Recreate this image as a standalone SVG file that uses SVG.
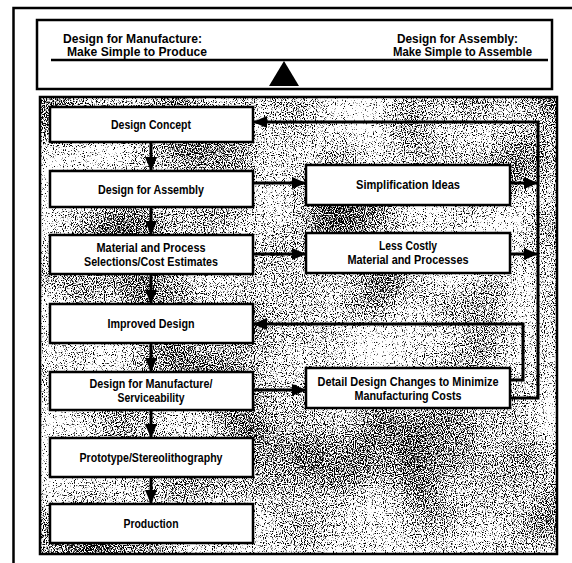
<svg xmlns="http://www.w3.org/2000/svg" width="572" height="563" viewBox="0 0 572 563">
  <style>
    .frame { fill: none; stroke: #000; stroke-width: 2.5; }
    .box { fill: #fff; stroke: #000; stroke-width: 2.5; }
    .lbl { font-family: "Liberation Sans", Arial, sans-serif; font-weight: bold; font-size: 13.5px; fill: #000; }
    .hdr { font-family: "Liberation Sans", Arial, sans-serif; font-weight: bold; font-size: 12.5px; fill: #000; }
    .arrow { fill: none; stroke: #000; stroke-width: 3; marker-end: url(#head); }
  </style>
  <defs>
    <marker id="head" markerUnits="userSpaceOnUse" markerWidth="14" markerHeight="12" refX="14" refY="6" orient="auto">
      <path d="M0,0 L14,6 L0,12 z" fill="#000"/>
    </marker>
    <!-- halftone-like grain for the shaded process panel -->
    <filter id="grain" x="0" y="0" width="100%" height="100%" color-interpolation-filters="sRGB">
      <feTurbulence type="fractalNoise" baseFrequency="0.9" numOctaves="1" seed="3" result="fineRaw"/>
      <feColorMatrix in="fineRaw" type="matrix" values="1 0 0 0 0  0 1 0 0 0  0 0 1 0 0  0 0 0 0 1" result="fine"/>
      <feTurbulence type="fractalNoise" baseFrequency="0.01" numOctaves="2" seed="7" result="coarseRaw"/>
      <feColorMatrix in="coarseRaw" type="matrix" values="1 0 0 0 0  0 1 0 0 0  0 0 1 0 0  0 0 0 0 1" result="coarse"/>
      <feComposite in="fine" in2="coarse" operator="arithmetic" k2="1" k3="0.45" k4="-0.225" result="mix"/>
      <feColorMatrix in="mix" type="matrix" values="0 0 0 0 0  0 0 0 0 0  0 0 0 0 0  -8 0 0 0 3.9"/>
    </filter>
  </defs>

  <!-- outer frame -->
  <path class="frame" d="M13.5,563 V8 H572"/>

  <!-- header: balance of manufacture vs assembly -->
  <g id="header">
    <rect class="frame" x="37" y="20" width="515" height="69" stroke-width="2"/>
    <text class="hdr" x="63" y="43" textLength="139" lengthAdjust="spacingAndGlyphs">Design for Manufacture:</text>
    <text class="hdr" x="67" y="56" textLength="140" lengthAdjust="spacingAndGlyphs">Make Simple to Produce</text>
    <text class="hdr" x="397" y="43" textLength="121" lengthAdjust="spacingAndGlyphs">Design for Assembly:</text>
    <text class="hdr" x="393" y="56" textLength="139" lengthAdjust="spacingAndGlyphs">Make Simple to Assemble</text>
    <line x1="51" y1="60" x2="548" y2="60" stroke="#000" stroke-width="2.5"/>
    <polygon points="284,61 269,86 299,86" fill="#000"/>
  </g>

  <!-- shaded process panel -->
  <g id="panel">
    <rect x="40" y="97" width="517" height="457" fill="#fff"/>
    <rect x="40" y="97" width="517" height="457" fill="#000" filter="url(#grain)"/>
    <rect class="frame" x="40" y="97" width="517" height="457"/>
  </g>

  <!-- connectors -->
  <g id="connectors">
    <line class="arrow" x1="151" y1="142" x2="151" y2="171"/>
    <line class="arrow" x1="151" y1="207" x2="151" y2="235"/>
    <line class="arrow" x1="151" y1="274" x2="151" y2="304"/>
    <line class="arrow" x1="151" y1="343" x2="151" y2="372"/>
    <line class="arrow" x1="151" y1="410" x2="151" y2="438"/>
    <line class="arrow" x1="151" y1="477" x2="151" y2="504"/>

    <line class="arrow" x1="253" y1="183" x2="306" y2="183"/>
    <line class="arrow" x1="253" y1="254" x2="306" y2="254"/>
    <line class="arrow" x1="253" y1="390" x2="306" y2="390"/>

    <line class="arrow" x1="510" y1="183" x2="538" y2="183"/>
    <line class="arrow" x1="510" y1="254" x2="538" y2="254"/>

    <!-- outer feedback loop back to the concept -->
    <path class="arrow" d="M510,398 H538 V122 H253"/>
    <!-- inner feedback loop back to the improved design -->
    <path class="arrow" d="M510,380 H523 V324 H253"/>
  </g>

  <g id="design-concept">
    <rect class="box" x="50" y="107" width="203" height="35"/>
    <text class="lbl" x="151" y="129" text-anchor="middle" textLength="80" lengthAdjust="spacingAndGlyphs">Design Concept</text>
  </g>
  <g id="design-for-assembly">
    <rect class="box" x="50" y="171" width="203" height="36"/>
    <text class="lbl" x="151" y="194" text-anchor="middle" textLength="106" lengthAdjust="spacingAndGlyphs">Design for Assembly</text>
  </g>
  <g id="material-process">
    <rect class="box" x="50" y="235" width="203" height="39"/>
    <text class="lbl" x="151" y="252" text-anchor="middle" textLength="109" lengthAdjust="spacingAndGlyphs">Material and Process</text>
    <text class="lbl" x="151" y="266" text-anchor="middle" textLength="134" lengthAdjust="spacingAndGlyphs">Selections/Cost Estimates</text>
  </g>
  <g id="improved-design">
    <rect class="box" x="50" y="304" width="203" height="39"/>
    <text class="lbl" x="151" y="328" text-anchor="middle" textLength="87" lengthAdjust="spacingAndGlyphs">Improved Design</text>
  </g>
  <g id="design-for-manufacture">
    <rect class="box" x="50" y="372" width="203" height="38"/>
    <text class="lbl" x="151" y="388" text-anchor="middle" textLength="123" lengthAdjust="spacingAndGlyphs">Design for Manufacture/</text>
    <text class="lbl" x="151" y="402" text-anchor="middle" textLength="67" lengthAdjust="spacingAndGlyphs">Serviceability</text>
  </g>
  <g id="prototype">
    <rect class="box" x="50" y="438" width="203" height="39"/>
    <text class="lbl" x="151" y="462" text-anchor="middle" textLength="143" lengthAdjust="spacingAndGlyphs">Prototype/Stereolithography</text>
  </g>
  <g id="production">
    <rect class="box" x="50" y="504" width="203" height="39"/>
    <text class="lbl" x="151" y="528" text-anchor="middle" textLength="55" lengthAdjust="spacingAndGlyphs">Production</text>
  </g>

  <g id="simplification-ideas">
    <rect class="box" x="306" y="165" width="204" height="40"/>
    <text class="lbl" x="408" y="189" text-anchor="middle" textLength="104" lengthAdjust="spacingAndGlyphs">Simplification Ideas</text>
  </g>
  <g id="less-costly">
    <rect class="box" x="306" y="233" width="204" height="40"/>
    <text class="lbl" x="408" y="250" text-anchor="middle" textLength="58" lengthAdjust="spacingAndGlyphs">Less Costly</text>
    <text class="lbl" x="408" y="264" text-anchor="middle" textLength="121" lengthAdjust="spacingAndGlyphs">Material and Processes</text>
  </g>
  <g id="detail-design-changes">
    <rect class="box" x="306" y="368" width="204" height="40"/>
    <text class="lbl" x="408" y="386" text-anchor="middle" textLength="181" lengthAdjust="spacingAndGlyphs">Detail Design Changes to Minimize</text>
    <text class="lbl" x="408" y="400" text-anchor="middle" textLength="107" lengthAdjust="spacingAndGlyphs">Manufacturing Costs</text>
  </g>
</svg>
